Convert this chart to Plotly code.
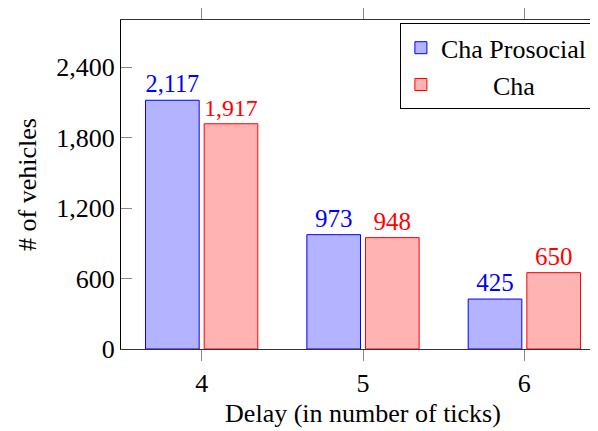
import plotly.graph_objects as go

delays = [4, 5, 6]
prosocial = [2117, 973, 425]
cha = [1917, 948, 650]
y_ticks = [0, 600, 1200, 1800, 2400]
y_tick_labels = ["0", "600", "1,200", "1,800", "2,400"]
series_names = ["Cha Prosocial", "\u00a0" * 8 + "Cha"]

FONT = "Liberation Serif"

fig = go.Figure()
fig.add_trace(go.Bar(
    x=delays, y=prosocial, name=series_names[0],
    marker=dict(color="rgb(179,179,255)", line=dict(color="blue", width=1)),
    text=[f"{v:,}" for v in prosocial], textposition="outside",
    textfont=dict(color="blue", size=25, family=FONT), cliponaxis=False,
))
fig.add_trace(go.Bar(
    x=delays, y=cha, name=series_names[1],
    marker=dict(color="rgb(255,179,179)", line=dict(color="red", width=1)),
    text=[f"{v:,}" for v in cha], textposition="outside",
    textfont=dict(color="red", size=25, family=FONT), cliponaxis=False,
))

fig.update_layout(
    width=598, height=423,
    margin=dict(l=113, r=0, t=6, b=82),
    plot_bgcolor="white", paper_bgcolor="white",
    font=dict(family=FONT, size=22, color="black"),
    barmode="group", bargap=0.273, bargroupgap=0.0855,
    legend=dict(
        x=0.975, y=0.99, xanchor="right", yanchor="top",
        bordercolor="black", borderwidth=1, bgcolor="white",
        font=dict(size=26, family=FONT), tracegroupgap=0,
    ),
    xaxis=dict(
        range=[3.5, 6.5], tickvals=delays, ticktext=[str(d) for d in delays],
        tickfont=dict(size=26),
        showline=True, linecolor="#333", linewidth=1, mirror="ticks",
        ticks="outside", ticklen=11, tickcolor="#888", showgrid=False, zeroline=False,
        title=dict(text="Delay (in number of ticks)", standoff=6),
    ),
    yaxis=dict(
        range=[0, 2800], tickvals=y_ticks, ticktext=y_tick_labels,
        tickfont=dict(size=26),
        showline=True, linecolor="black", linewidth=1, mirror="ticks",
        ticks="inside", ticklen=11, tickcolor="#888", showgrid=False, zeroline=False,
        title=dict(text="# of vehicles", standoff=12),
    ),
)

fig.write_html("out.html")
